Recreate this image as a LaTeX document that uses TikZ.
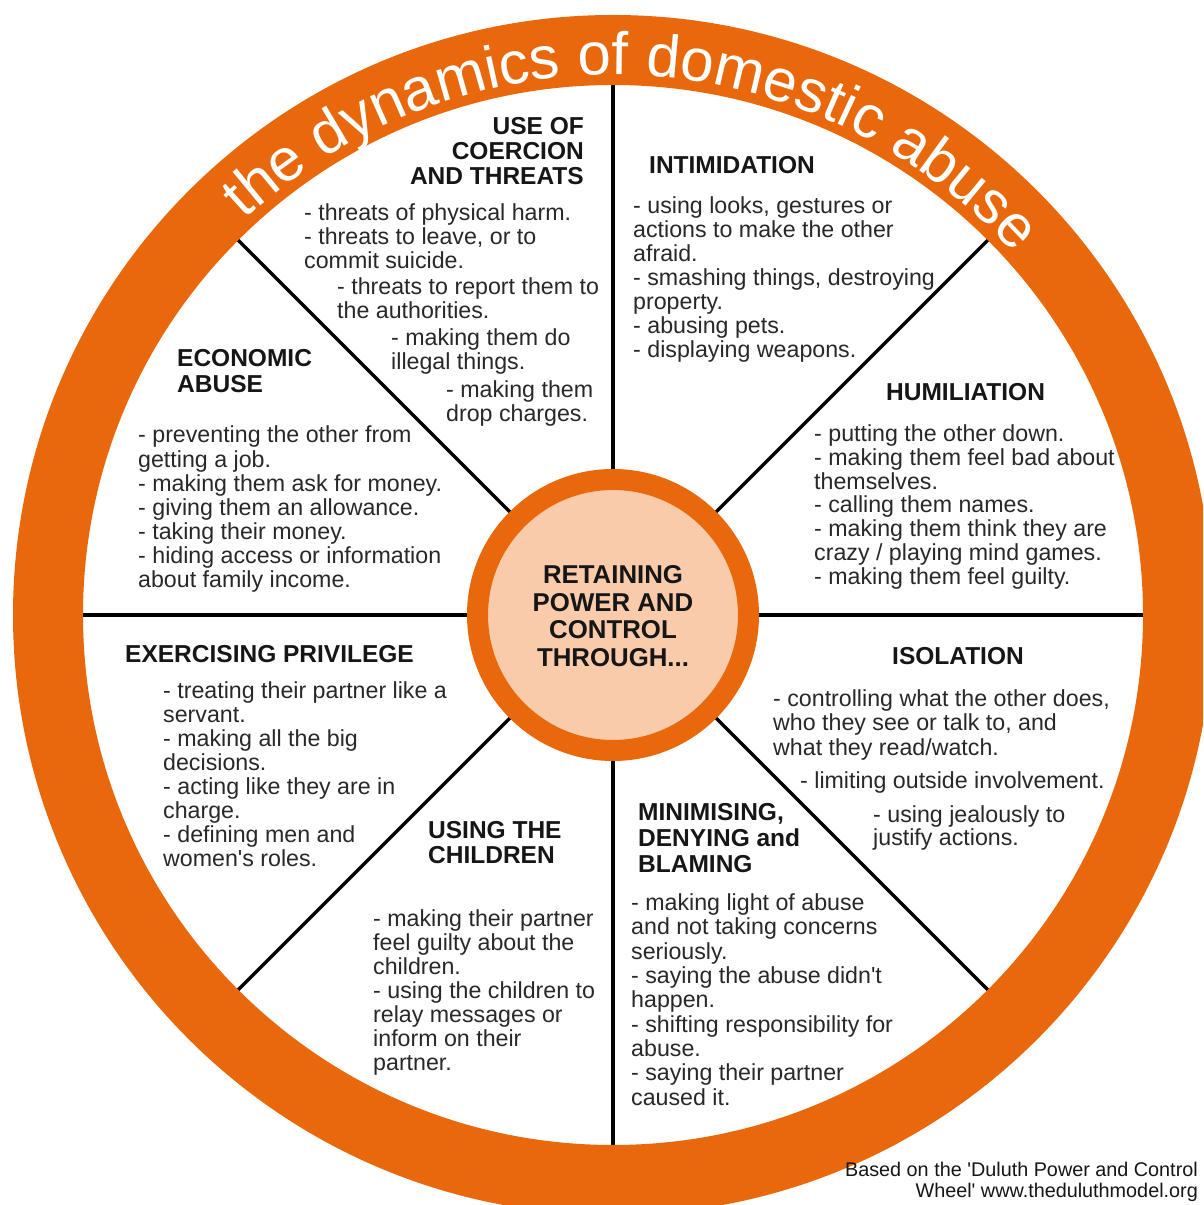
\documentclass[tikz,border=0pt]{standalone}
\usepackage{fontspec}
\setmainfont{Liberation Sans}
\usetikzlibrary{decorations.text}
\definecolor{wheelorange}{RGB}{233,104,12}
\definecolor{hubpeach}{RGB}{249,203,170}
\definecolor{bodygray}{RGB}{40,40,40}
\definecolor{headblack}{RGB}{22,22,22}
\newcommand{\wtitlefont}{\fontsize{60}{60}\selectfont}
\newcommand{\wq}{\textquotesingle}
\newcommand{\wblock}[6]{%
  \foreach \ln [count=\i] in {#6} {\node[#2] (#1-\i) at (#3,{#4-(\i-1)*#5}) {\ln};}%
}
\begin{document}
\begin{tikzpicture}[x=1pt,y=1pt,
  bodytext/.style={font=\fontsize{23.2}{24.2}\selectfont, text=bodygray, inner sep=0pt, anchor=base west},
  headtext/.style={font=\fontsize{24.5}{26}\selectfont\bfseries, text=headblack, inner sep=0pt, anchor=base west},
  hubtext/.style={font=\fontsize{25.8}{27}\selectfont\bfseries, text=headblack, inner sep=0pt, anchor=base},
  foottext/.style={font=\fontsize{19.8}{21}\selectfont, text=headblack, inner sep=0pt, anchor=base east},
  spoke/.style={draw=black, line width=3.5pt}]
\useasboundingbox (0,0) rectangle (1203,1205);
\clip (0,0) rectangle (1203,1205);
\fill[white] (0,0) rectangle (1203,1205);
% geometry
\coordinate (C) at (613,590);
\coordinate (sN) at (613,1120);
\coordinate (sS) at (613,60);
\coordinate (sW) at (83,590);
\coordinate (sE) at (1143,590);
\coordinate (sNW) at (238,965);
\coordinate (sNE) at (988,965);
\coordinate (sSW) at (238,215);
\coordinate (sSE) at (988,215);
% spokes
\draw[spoke] (sN) -- (sS);
\draw[spoke] (sW) -- (sE);
\draw[spoke] (sNW) -- (sSE);
\draw[spoke] (sNE) -- (sSW);
% outer ring
\draw[wheelorange, line width=70pt] (C) circle[radius=565];
% title on ring
\path[decorate, decoration={text along path, text align=center,
  text={|\wtitlefont\color{white}|the dynamics of domestic abuse}}]
  (C) ++(134.5:540) arc[start angle=134.5, end angle=40.5, radius=540];
% hub
\node[circle, fill=hubpeach, draw=wheelorange, line width=21pt, minimum size=271pt, inner sep=0pt] (hub) at (C) {};
\wblock{hubt}{hubtext}{613}{621.7}{27.8}{RETAINING,POWER AND,CONTROL,THROUGH.{}.{}.}
% USE OF COERCION AND THREATS
\wblock{coerh}{headtext,anchor=base east}{584}{1070}{25}{USE OF,COERCION,AND THREATS}
\wblock{coera}{bodytext}{304}{984}{24}{- threats of physical harm.,{- threats to leave, or to},commit suicide.}
\wblock{coerb}{bodytext}{337}{910}{24}{- threats to report them to,the authorities.}
\wblock{coerc}{bodytext}{391}{859}{24}{- making them do,illegal things.}
\wblock{coerd}{bodytext}{446}{807}{24}{- making them,drop charges.}
% INTIMIDATION
\wblock{intih}{headtext}{649}{1031}{25}{INTIMIDATION}
\wblock{intib}{bodytext}{633}{991}{24}{{- using looks, gestures or},actions to make the other,afraid.,{- smashing things, destroying},property.,- abusing pets.,- displaying weapons.}
% HUMILIATION
\wblock{humih}{headtext}{886}{804}{25}{HUMILIATION}
\wblock{humib}{bodytext}{814}{763.5}{23.8}{- putting the other down.,- making them feel bad about,themselves.,- calling them names.,- making them think they are,crazy / playing mind games.,- making them feel guilty.}
% ECONOMIC ABUSE
\wblock{econh}{headtext}{177}{838}{26}{ECONOMIC,ABUSE}
\wblock{econb}{bodytext}{138}{762}{24.1}{- preventing the other from,getting a job.,- making them ask for money.,- giving them an allowance.,- taking their money.,- hiding access or information,about family income.}
% EXERCISING PRIVILEGE
\wblock{exerh}{headtext}{125}{542}{25}{EXERCISING PRIVILEGE}
\wblock{exerb}{bodytext}{163}{506.7}{24.1}{- treating their partner like a,servant.,- making all the big,decisions.,- acting like they are in,charge.,- defining men and,women\wq s roles.}
% ISOLATION
\wblock{isolh}{headtext}{892}{540}{25}{ISOLATION}
\wblock{isola}{bodytext}{773}{498.3}{24.2}{{- controlling what the other does,},{who they see or talk to, and},what they read/watch.}
\wblock{isolb}{bodytext}{800}{416.7}{24}{- limiting outside involvement.}
\wblock{isolc}{bodytext}{873}{382}{23}{- using jealously to,justify actions.}
% USING THE CHILDREN
\wblock{chilh}{headtext}{428}{366.7}{25}{USING THE,CHILDREN}
\wblock{chilb}{bodytext}{373}{278.3}{23.9}{- making their partner,feel guilty about the,children.,- using the children to,relay messages or,inform on their,partner.}
% MINIMISING
\wblock{minih}{headtext}{638}{384.3}{25.7}{{MINIMISING,},DENYING and,BLAMING}
\wblock{minib}{bodytext}{631}{294.3}{24.3}{- making light of abuse,and not taking concerns,seriously.,- saying the abuse didn\wq t,happen.,- shifting responsibility for,abuse.,- saying their partner,caused it.}
% footer
\wblock{foot}{foottext}{1198}{28.3}{21.3}{Based on the \wq Duluth Power and Control,Wheel\wq{} www.theduluthmodel.org}
\end{tikzpicture}
\end{document}
